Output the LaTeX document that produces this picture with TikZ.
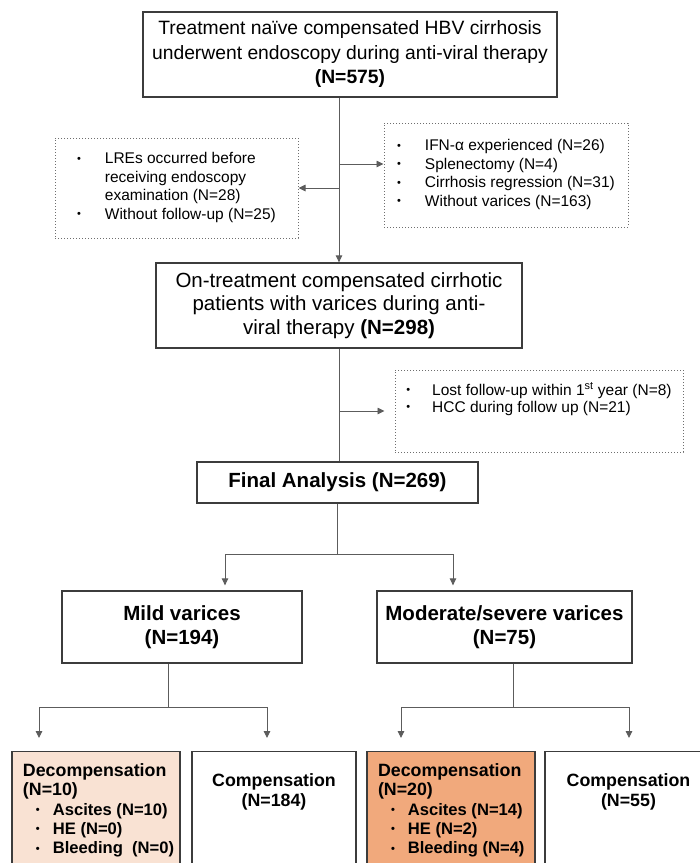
\documentclass[tikz,border=0pt]{standalone}
\usepackage{fontspec}
\setmainfont{Liberation Sans}
\usetikzlibrary{positioning,arrows.meta}

\definecolor{boxline}{HTML}{3C3C3C}
\definecolor{linkgray}{HTML}{5C5C5C}
\definecolor{dotgray}{HTML}{6E6E6E}
\definecolor{decomplight}{HTML}{F9E2D3}
\definecolor{decompdark}{HTML}{F1A97C}

\newcommand{\bul}{\raisebox{1.6pt}{\fontsize{11}{11}\selectfont\textbullet}}
\newcommand{\bulrow}[1]{\mbox{\hspace*{13pt}\bul\hspace{13pt}\fontsize{16.6}{19.3}\selectfont#1}}

\tikzset{
  box/.style={draw=boxline, line width=1.3pt, align=center, inner sep=0pt},
  dotbox/.style={draw=dotgray, dotted, line width=1pt, inner sep=0pt},
  outbox/.style={box, anchor=north, inner xsep=0pt, inner ysep=12pt},
  link/.style={draw=linkgray, line width=0.9pt},
  arrow/.style={link, -{Triangle[length=7pt,width=6.5pt]}},
}

\begin{document}
\begin{tikzpicture}[x=1pt,y=-1pt]
\useasboundingbox (0,0) rectangle (700,863);
\clip (0,0) rectangle (700,863);

% selection
\node[box, minimum width=414pt, minimum height=85pt,
  font=\fontsize{19.3}{24.5}\selectfont] (naive) at (350,54.5)
  {Treatment naïve compensated HBV cirrhosis\\
   underwent endoscopy during anti-viral therapy\\
   \textbf{(N=575)}};
\node[dotbox, minimum width=243pt, minimum height=100pt,
  font=\fontsize{15.5}{18.5}\selectfont] (excl0) at (176.5,188)
  {\begin{tabular}{@{}l@{\hspace{24pt}}l@{}}
   \bul & LREs occurred before\\
        & receiving endoscopy\\
        & examination (N=28)\\
   \bul & Without follow-up (N=25)
   \end{tabular}};
\node[dotbox, minimum width=244pt, minimum height=104pt,
  font=\fontsize{15.5}{18.5}\selectfont] (excl1) at (506,175)
  {\begin{tabular}{@{}l@{\hspace{24pt}}l@{}}
   \bul & IFN-α experienced (N=26)\\
   \bul & Splenectomy (N=4)\\
   \bul & Cirrhosis regression (N=31)\\
   \bul & Without varices (N=163)
   \end{tabular}};
\node[box, minimum width=366pt, minimum height=85pt,
  font=\fontsize{20.5}{23.5}\selectfont] (onTx) at (339,305.5)
  {On-treatment compensated cirrhotic\\
   patients with varices during anti-\\
   viral therapy \textbf{(N=298)}};
\node[dotbox, minimum width=288pt, minimum height=82pt,
  font=\fontsize{15.5}{17}\selectfont] (excl2) at (539,411)
  {\begin{tabular}{@{}l@{\hspace{22pt}}l@{}}
   \bul & Lost follow-up within 1\textsuperscript{st} year (N=8)\\
   \bul & HCC during follow up (N=21)\\[22pt]
   \end{tabular}};
\node[box, minimum width=281pt, minimum height=41pt,
  font=\fontsize{20.5}{24}\selectfont\bfseries] (final) at (337.5,482.5)
  {Final Analysis (N=269)};

% varices grade
\node[box, minimum width=240pt, minimum height=72pt,
  font=\fontsize{20.5}{24}\selectfont\bfseries] (mild) at (182,627)
  {Mild varices\\(N=194)};
\node[box, minimum width=255pt, minimum height=72pt,
  font=\fontsize{20.5}{24}\selectfont\bfseries] (moder) at (504.5,627)
  {Moderate/severe varices\\(N=75)};

% outcomes
\node[outbox, fill=decomplight, minimum width=168pt] (dec1) at (96,751)
  {\begin{minipage}[t][110pt][t]{146pt}\raggedright
   \fontsize{17.8}{19.3}\selectfont\bfseries
   Decompensation\\(N=10)\\
   \bulrow{Ascites (N=10)}\\
   \bulrow{HE (N=0)}\\
   \bulrow{Bleeding\ \ (N=0)}
   \end{minipage}};
\node[outbox, minimum width=164pt] (comp1) at (274,751)
  {\begin{minipage}[t][110pt][t]{150pt}\centering
   \fontsize{17.8}{20}\selectfont\bfseries
   \vspace*{10pt}
   Compensation\\(N=184)
   \end{minipage}};
\node[outbox, fill=decompdark, minimum width=168pt] (dec2) at (451,751)
  {\begin{minipage}[t][110pt][t]{146pt}\raggedright
   \fontsize{17.8}{19.3}\selectfont\bfseries
   Decompensation\\(N=20)\\
   \bulrow{Ascites (N=14)}\\
   \bulrow{HE (N=2)}\\
   \bulrow{Bleeding (N=4)}
   \end{minipage}};
\node[outbox, minimum width=167pt] (comp2) at (628.5,751)
  {\begin{minipage}[t][110pt][t]{150pt}\centering
   \fontsize{17.8}{20}\selectfont\bfseries
   \vspace*{10pt}
   Compensation\\(N=55)
   \end{minipage}};

% connectors
\coordinate (in1) at ([yshift=11pt]excl1.west);
\draw[arrow] (naive.south -| onTx.north) -- (onTx.north);
\draw[arrow] (onTx.north |- excl0.east) -- (excl0.east);
\draw[arrow] (onTx.north |- in1) -- (in1);
\draw[link] (onTx.south) -- (onTx.south |- final.north);
\draw[arrow, shorten >=10pt] (onTx.south |- excl2.west) -- (excl2.west);

\coordinate (fork1) at ([yshift=-51pt]final.south);
\draw[link] (final.south) -- (fork1);
\draw[arrow, shorten >=5pt] (fork1) -| ([xshift=43pt]mild.north);
\draw[arrow, shorten >=5pt] (fork1) -| ([xshift=-51.5pt]moder.north);

\coordinate (fork2) at ([xshift=-14pt,yshift=-44pt]mild.south);
\draw[link] ([xshift=-14pt]mild.south) -- (fork2);
\draw[arrow, shorten >=13pt] (fork2) -| ([xshift=-57pt]dec1.north);
\draw[arrow, shorten >=13pt] (fork2) -| ([xshift=-7pt]comp1.north);

\coordinate (fork3) at ([xshift=8.5pt,yshift=-44pt]moder.south);
\draw[link] ([xshift=8.5pt]moder.south) -- (fork3);
\draw[arrow, shorten >=13pt] (fork3) -| ([xshift=-50pt]dec2.north);
\draw[arrow, shorten >=13pt] (fork3) -| ([xshift=0.5pt]comp2.north);
\end{tikzpicture}
\end{document}
